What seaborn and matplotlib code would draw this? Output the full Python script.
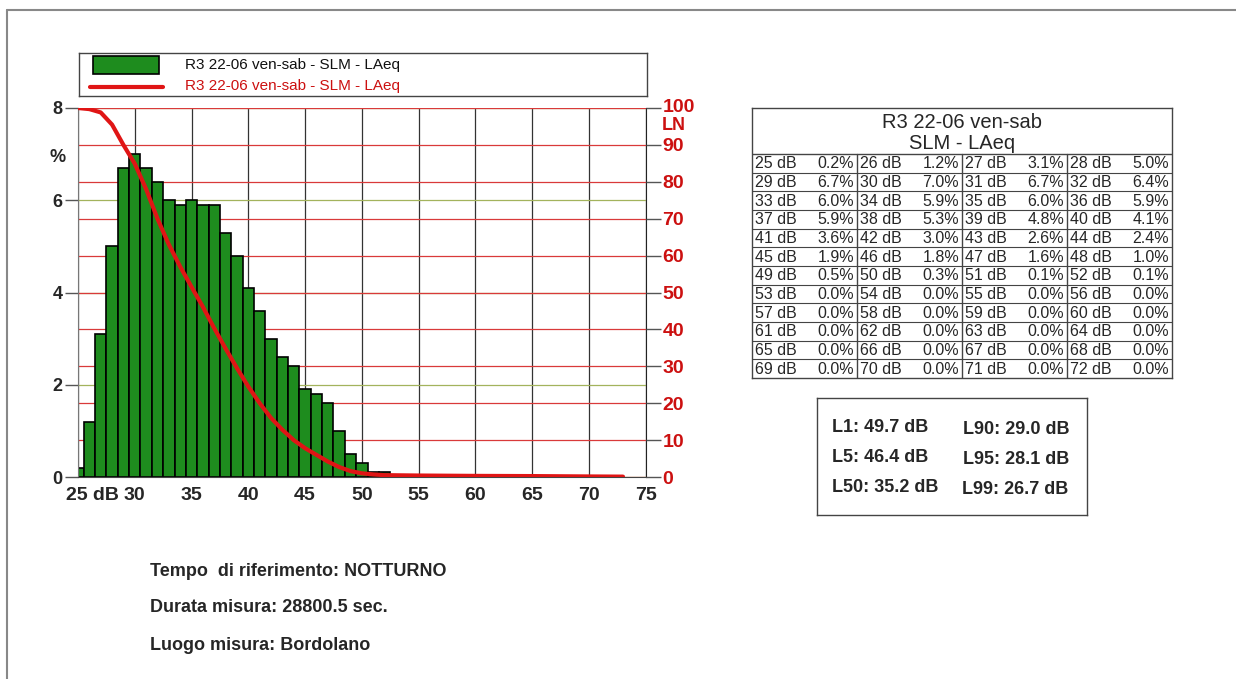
import numpy as np
import matplotlib
matplotlib.use("Agg")
import matplotlib.pyplot as plt
from matplotlib.patches import Rectangle
from matplotlib.lines import Line2D
from matplotlib.transforms import ScaledTranslation
import seaborn as sns

# ---------------- data ----------------
db_levels = list(range(25, 73))
pct = [0.2, 1.2, 3.1, 5.0, 6.7, 7.0, 6.7, 6.4, 6.0, 5.9, 6.0, 5.9,
       5.9, 5.3, 4.8, 4.1, 3.6, 3.0, 2.6, 2.4, 1.9, 1.8, 1.6, 1.0,
       0.5, 0.3, 0.1, 0.1] + [0.0] * 20

# LN curve (percent of time above level)
ln_db = [25, 26, 27, 28, 29, 30, 31, 32, 33, 34, 35, 36, 37, 38, 39, 40,
         41, 42, 43, 44, 45, 46, 47, 48, 49, 50, 51, 52, 55, 60, 65, 70, 73]
ln_val = [100, 99.7, 98.8, 95.5, 90.0, 84.9, 78.0, 70.0, 63.0, 57.0, 51.5,
          46.1, 40.3, 34.8, 29.5, 24.5, 20.0, 16.0, 12.8, 10.0, 7.8, 6.0,
          4.2, 2.7, 1.6, 1.0, 0.7, 0.5, 0.4, 0.3, 0.25, 0.15, 0.1]

x_ticks = list(range(25, 76, 5))
x_labels = ["25 dB"] + [str(v) for v in x_ticks[1:]]
pct_ticks = [0, 2, 4, 6, 8]
ln_ticks = list(range(0, 101, 10))

l_names = ["L1", "L5", "L50", "L90", "L95", "L99"]
l_values = [49.7, 46.4, 35.2, 29.0, 28.1, 26.7]

series_name = "R3 22-06 ven-sab - SLM - LAeq"
table_title = ["R3 22-06 ven-sab", "SLM - LAeq"]
info_lines = ["Tempo  di riferimento: NOTTURNO",
              "Durata misura: 28800.5 sec.",
              "Luogo misura: Bordolano"]

# ---------------- style ----------------
sns.set_style("white")
plt.rcParams["font.family"] = ["Liberation Sans", "DejaVu Sans"]

GREEN = "#1e8c1e"
RED = "#e01515"
RED_GRID = "#d93a3a"
RED_TXT = "#cc1010"

W, H = 1236, 679
fig = plt.figure(figsize=(W / 100, H / 100), dpi=100)

# ---------------- main chart ----------------
ax = fig.add_axes([78 / W, 1 - 477 / H, (645.7 - 78) / W, (477 - 108) / H])
ax.set_axisbelow(True)

sns.histplot(x=db_levels, weights=pct, discrete=True, ax=ax, color=GREEN,
             edgecolor="black", linewidth=1.2, alpha=1)

ax.set_xlim(25, 75)
ax.set_ylim(0, 8)
ax.set_xlabel("")
ax.set_ylabel("")

ax.set_xticks(x_ticks)
ax.set_xticklabels(x_labels, fontsize=14, fontweight="bold")
ax.tick_params(axis="x", length=0, pad=7)
lbl = ax.get_xticklabels()[0]
lbl.set_ha("left")
lbl.set_transform(lbl.get_transform() + ScaledTranslation(-0.115, 0, fig.dpi_scale_trans))

ax.set_yticks(pct_ticks)
ax.set_yticklabels([str(v) for v in pct_ticks], fontsize=13, fontweight="bold")
ax.tick_params(axis="y", length=9.5, width=1, color="#555", pad=1.5)

ax.grid(axis="x", color="#333", lw=0.9)
ax.grid(axis="y", color="#a3b35c", lw=0.9)
# red LN reference lines, kept behind the bars
ax.hlines(np.array(ln_ticks) * 8 / 100, 25, 75, color=RED_GRID, lw=0.9, zorder=0.7)

ax.spines["top"].set_visible(False)
ax.spines["left"].set_color("#777")
ax.spines["right"].set_color("#222")
ax.spines["bottom"].set_color("#444")

# LN curve on right axis
ax2 = ax.twinx()
sns.lineplot(x=ln_db, y=ln_val, ax=ax2, color=RED, lw=3)
ax2.set_ylim(0, 100)
ax2.set_ylabel("")
ax2.set_yticks(ln_ticks)
ax2.set_yticklabels([str(v) for v in ln_ticks], fontsize=14, fontweight="bold", color=RED_TXT)
ax2.tick_params(axis="y", length=11, width=1, color="#555", pad=1)
top_lbl = ax2.get_yticklabels()[-1]
top_lbl.set_transform(top_lbl.get_transform() + ScaledTranslation(0, 0.03, fig.dpi_scale_trans))
for s in ax2.spines.values():
    s.set_visible(False)

fig.text(58 / W, 1 - 157 / H, "%", fontsize=13, fontweight="bold", ha="center", va="center")
fig.text(662 / W, 1 - 126 / H, "LN", fontsize=13, fontweight="bold", color=RED_TXT,
         ha="left", va="center")

# ---------------- legend box ----------------
lax = fig.add_axes([79 / W, 1 - 96 / H, 568 / W, 43 / H])
lax.set_xlim(0, 568)
lax.set_ylim(43, 0)
lax.set_xticks([])
lax.set_yticks([])
for s in lax.spines.values():
    s.set_color("#444")
    s.set_linewidth(1)
lax.add_patch(Rectangle((14, 3), 66, 18, facecolor=GREEN, edgecolor="black", lw=1.2))
lax.add_line(Line2D([11, 84], [34, 34], color=RED, lw=3))
lax.text(106, 12, series_name, fontsize=11, color="#111", va="center")
lax.text(106, 33, series_name, fontsize=11, color=RED_TXT, va="center")

# ---------------- percentage table ----------------
tax = fig.add_axes([752 / W, 1 - 378 / H, 420 / W, 270 / H])
tax.set_xlim(0, 420)
tax.set_ylim(270, 0)
tax.set_xticks([])
tax.set_yticks([])
for s in tax.spines.values():
    s.set_color("#444")
    s.set_linewidth(1)

tax.text(210, 14, table_title[0], fontsize=14.5, ha="center", va="center")
tax.text(210, 35, table_title[1], fontsize=14.5, ha="center", va="center")

n_rows = len(db_levels) // 4
row_h = (270 - 46) / n_rows
col_w = 420 / 4
tax.axhline(46, color="#444", lw=1)
for r in range(n_rows):
    y0 = 46 + r * row_h
    if r > 0:
        tax.axhline(y0, color="#444", lw=0.8)
    for g in range(4):
        i = r * 4 + g
        x0 = g * col_w
        tax.text(x0 + 3, y0 + row_h / 2 + 0.5, f"{db_levels[i]} dB", fontsize=11.5,
                 ha="left", va="center")
        tax.text(x0 + col_w - 3, y0 + row_h / 2 + 0.5, f"{pct[i]:.1f}%", fontsize=11.5,
                 ha="right", va="center")
for g in range(1, 4):
    tax.plot([g * col_w, g * col_w], [46, 270], color="#444", lw=1)

# ---------------- L-values box ----------------
sax = fig.add_axes([817 / W, 1 - 515 / H, 270 / W, 117 / H])
sax.set_xlim(0, 270)
sax.set_ylim(117, 0)
sax.set_xticks([])
sax.set_yticks([])
for s in sax.spines.values():
    s.set_color("#444")
    s.set_linewidth(1)
stat_pos = [(15, 29), (15, 59), (15, 89), (146, 32), (146, 62), (145, 92)]
for name, val, (sx, sy) in zip(l_names, l_values, stat_pos):
    sax.text(sx, sy, f"{name}: {val:.1f} dB", fontsize=13, fontweight="bold",
             ha="left", va="center")

# ---------------- footer info ----------------
for txt, yy in zip(info_lines, [572, 608, 645]):
    fig.text(150 / W, 1 - yy / H, txt, fontsize=13, fontweight="bold", va="center")

# page frame
fig.add_artist(Line2D([7 / W, 7 / W], [0, 1 - 10 / H], transform=fig.transFigure,
                      color="#888", lw=1.5))
fig.add_artist(Line2D([7 / W, 1], [1 - 10 / H, 1 - 10 / H], transform=fig.transFigure,
                      color="#888", lw=1.5))

fig.savefig("out.png", dpi=100)
